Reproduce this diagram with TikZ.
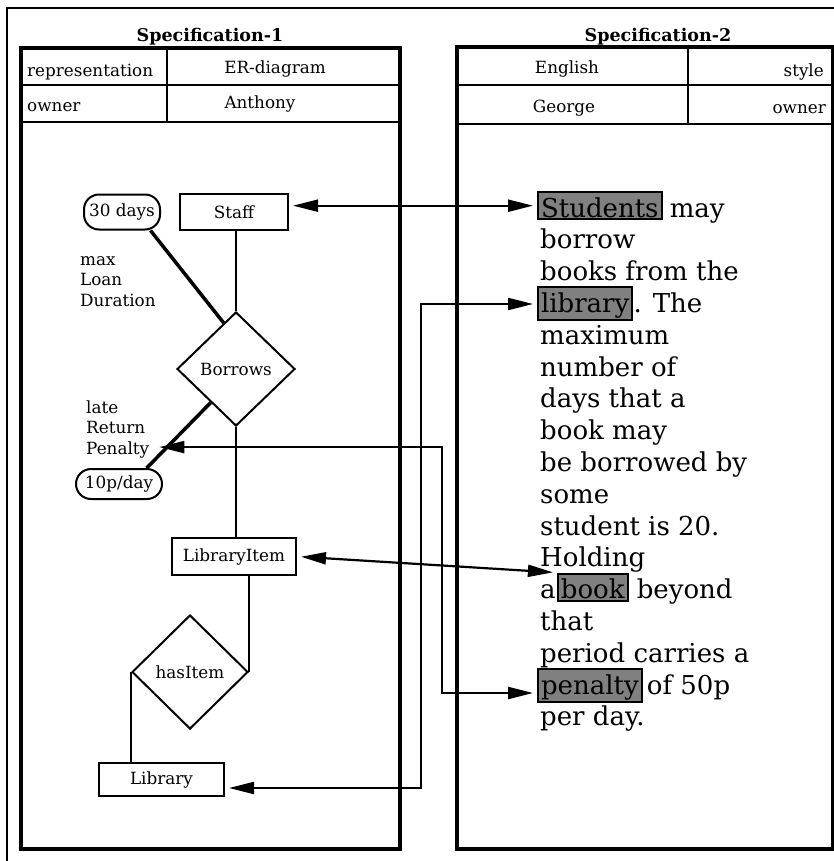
\documentclass[tikz,border=0pt]{standalone}
\usepackage{fontspec}
\setmainfont{DejaVu Serif}
\usetikzlibrary{positioning,shapes.geometric,arrows.meta}
\def\linesep{31.8}
\def\erfont{\fontsize{16.8}{20.5}\selectfont}

\begin{document}
\begin{tikzpicture}[x=1pt, y=-1pt, font=\erfont,
    link/.style={draw, line width=2.2pt, {Triangle[length=25pt,width=12pt]}-{Triangle[length=25pt,width=12pt]}, shorten <=4pt, shorten >=4pt}]
    \tikzstyle{panel}=[line width=4pt]
    \tikzstyle{grid}=[line width=2.5pt]
    \tikzstyle{entity}=[draw, line width=2pt, rectangle, minimum height=34pt, inner sep=2pt]
    \tikzstyle{relation}=[draw, line width=2pt, diamond, minimum width=118pt, minimum height=114pt, inner sep=0pt]
    \tikzstyle{attribute}=[draw, line width=2pt, rectangle, rounded corners=15pt, minimum height=34pt, inner sep=1pt]
    \tikzstyle{attr line}=[line width=3.5pt]
    \tikzstyle{er line}=[line width=2pt]
    \tikzstyle{annot}=[align=left, inner sep=0pt, anchor=north west]
    \tikzstyle{cell}=[inner sep=0pt]
    \tikzstyle{title}=[cell, anchor=base, font={\fontsize{17.5}{20}\selectfont\bfseries}]
    \tikzstyle{txt}=[font=\fontsize{26}{32}\selectfont, inner sep=0pt, anchor=base west]
    \tikzstyle{hl}=[txt, draw, line width=2pt, fill=gray, text height=23pt, inner xsep=3pt, inner ysep=2pt]

    \useasboundingbox (0,0) rectangle (834,861);
    \draw[line width=2pt] (6.5,8) rectangle (860,880);

    % Specification-1 frame and table
    \node[title] (spec1) at (210,42) {Specification-1};
    \draw[panel] (21,48) rectangle (400,849);
    \draw[grid] (21,85) -- (400,85) (21,122) -- (400,122) (167,48) -- (167,122);
    \node[cell, anchor=base west] (rep key) at (27,77) {representation};
    \node[cell, anchor=base] (rep val) at (275,74) {ER-diagram};
    \node[cell, anchor=base west] (own key) at (27,112) {owner};
    \node[cell, anchor=base] (own val) at (260,109) {Anthony};

    % Specification-2 frame and table
    \node[title] (spec2) at (658,42) {Specification-2};
    \draw[panel] (457,47) rectangle (833,849);
    \draw[grid] (457,85) -- (833,85) (457,124) -- (833,124) (688,47) -- (688,124);
    \node[cell, anchor=base] (style val) at (567,74) {English};
    \node[cell, anchor=base east] (style key) at (824,77) {style};
    \node[cell, anchor=base] (owner val) at (564,113) {George};
    \node[cell, anchor=base east] (owner key) at (826,114) {owner};

    % ER diagram
    \node[attribute, minimum width=76pt, minimum height=35pt] (max loan) at (122,212) {30 days};
    \node[entity, minimum width=108pt, minimum height=36pt] (staff) at (234,212) {Staff};
    \node[relation] (borrows) at (236,369) {Borrows};
    \node[attribute, minimum width=86pt, minimum height=30pt] (late fee) at (119,484) {10p/day};
    \node[entity, minimum width=124pt, minimum height=37pt] (libitem) at (234,556.5) {LibraryItem};
    \node[relation, minimum width=116pt] (hasitem) at (190,672) {hasItem};
    \node[entity, minimum width=125pt, minimum height=33pt] (library) at (161.5,779.5) {Library};

    \node[annot] (loan lbl) at (80,250.6) {\strut max\\Loan\\Duration};
    \node[annot] (late lbl) at (86,398.6) {\strut late\\Return\\Penalty};

    \draw[er line] (borrows.north |- staff.south) -- (borrows.north);
    \draw[attr line] (max loan.-33) -- (borrows.105);
    \draw[attr line] (borrows.233) -- (late fee.30);
    \draw[er line] (borrows.south) -- (borrows.south |- libitem.north);
    \draw[er line] (hasitem.east |- libitem.south) -- (hasitem.east);
    \draw[er line] (hasitem.west) -- (hasitem.west |- library.north);

    % English text
    \foreach \n/\words in {2/borrow, 3/books from the, 5/maximum, 6/number of, 7/days that a, 8/book may, 9/be borrowed by, 10/some, 11/student is 20., 12/Holding, 14/that, 15/period carries a, 17/per day.}
        \node[txt] (line-\n) at (540, {217+(\n-1)*\linesep}) {\words};

    \node[hl] (stud word) at (537,217) {Students};
    \node[txt, base right=7pt of stud word] (line-1) {may};
    \node[hl] (lib word) at (537, {217+3*\linesep}) {library};
    \node[txt, base right=0pt of lib word] (line-4) {. The};
    \node[txt] (line-13) at (540, {217+12*\linesep}) {a};
    \node[hl, base right=1pt of line-13] (book word) {book};
    \node[txt, base right=8pt of book word] {beyond};
    \node[hl] (pen word) at (537, {217+15*\linesep}) {penalty};
    \node[txt, base right=4pt of pen word] {of 50p};

    % Links between the two specifications
    \coordinate (lib bend) at (421,304);
    \coordinate (pen bend) at (442,693);
    \draw[link] (staff.east |- stud word.west) -- (stud word.west);
    \draw[link] ([yshift=-8.5pt]library.east) -| (lib bend) -- (lib word.west |- lib bend);
    \draw[link] ([shift={(6pt,11pt)}]late lbl.south east) -| (pen bend) -- (pen word.west |- pen bend);
    \draw[link] (libitem.east) -- (book word.north west);
\end{tikzpicture}
\end{document}
